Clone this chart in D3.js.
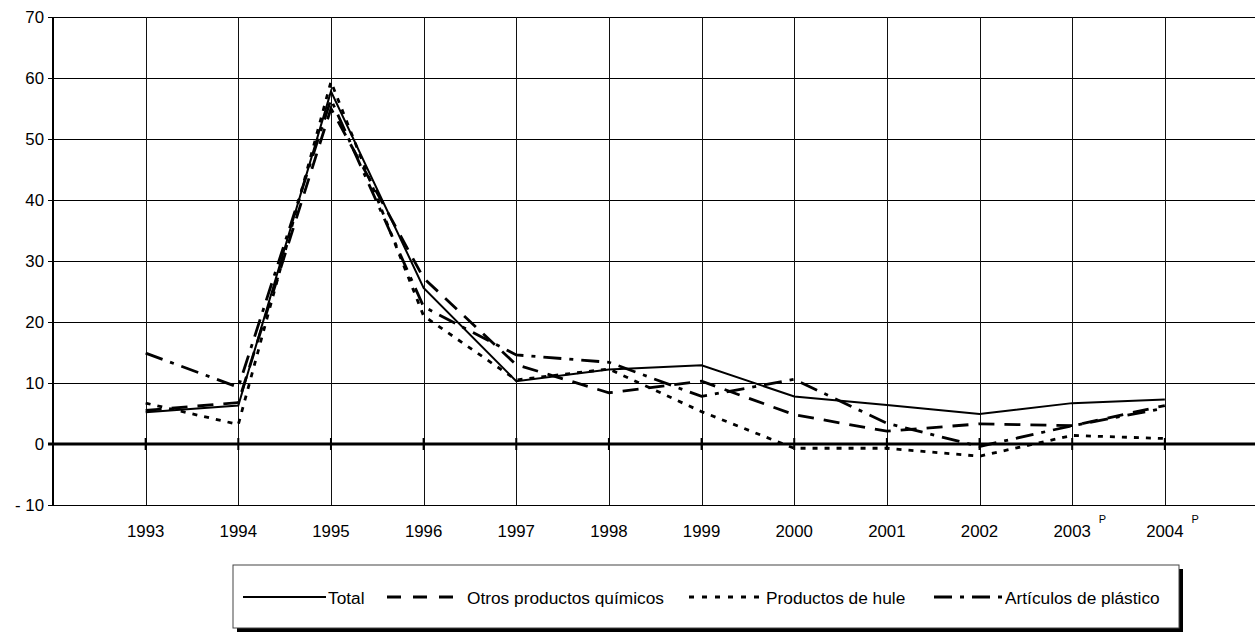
<!DOCTYPE html>
<html>
<head>
<meta charset="utf-8">
<script src="https://cdn.jsdelivr.net/npm/d3@7"></script>
<style>
  html, body { margin: 0; padding: 0; background: #fff; }
  svg { display: block; }
  text { font-family: "Liberation Sans", Arial, sans-serif; fill: #000; }
</style>
</head>
<body>
<svg id="chart" width="1255" height="633"></svg>
<script>
// ---- data ----
const years = ["1993","1994","1995","1996","1997","1998","1999","2000","2001","2002","2003","2004"];
const superscripts = ["","","","","","","","","","","P","P"];
const total      = [5.2, 6.3, 57.8, 25.6, 10.3, 12.2, 12.9, 7.8, 6.4, 4.9, 6.7, 7.3];
const otros      = [5.5, 6.8, 55.0, 27.2, 13.0, 8.4, 10.3, 4.8, 2.1, 3.3, 3.0, 6.3];
const hule       = [6.7, 3.2, 59.4, 21.0, 10.5, 12.3, 5.3, -0.7, -0.7, -2.0, 1.4, 0.9];
const plastico   = [14.9, 9.3, 56.5, 22.5, 14.6, 13.4, 7.8, 10.6, 3.4, -0.4, 3.0, 5.9];
const seriesNames = ["Total", "Otros productos químicos", "Productos de hule", "Artículos de plástico"];
const yTicks = [-10, 0, 10, 20, 30, 40, 50, 60, 70];

(function () {
const series = [
  {name: seriesNames[0], values: total,    dash: null,          width: 2,   legDash: null},
  {name: seriesNames[1], values: otros,    dash: "16,10",       width: 2.8, legDash: "14,12"},
  {name: seriesNames[2], values: hule,     dash: "5,7",         width: 2.8, legDash: "5,8"},
  {name: seriesNames[3], values: plastico, dash: "18,8,4,8",    width: 2.8, legDash: "18,8,4,8"}
];
// legend layout (pixels)
const legLayout = [
  {x1: 243, x2: 326, tx: 328},
  {x1: 387, x2: 455, tx: 467},
  {x1: 689, x2: 763, tx: 766},
  {x1: 934, x2: 1002, tx: 1005}
];

const svg = d3.select("#chart");
const pLeft = 53, pTop = 17, pBottom = 505;
const x = d3.scaleLinear().domain([-1, years.length]).range([pLeft, 1257.5]);
const y = d3.scaleLinear().domain([-10, 70]).range([pBottom, pTop]);

function stretch(sel, k) {
  sel.each(function () {
    const w = this.getComputedTextLength();
    d3.select(this).attr("textLength", w * k).attr("lengthAdjust", "spacingAndGlyphs");
  });
}

// horizontal grid
svg.append("g").selectAll("line").data(yTicks.filter(d => d !== 0)).join("line")
  .attr("x1", pLeft).attr("x2", 1255)
  .attr("y1", d => Math.round(y(d)) + 0.5).attr("y2", d => Math.round(y(d)) + 0.5)
  .attr("stroke", "#000").attr("stroke-width", 1);

// vertical grid
const vIdx = d3.range(0, years.length + 1);
svg.append("g").selectAll("line").data(vIdx).join("line")
  .attr("x1", d => Math.round(x(d)) + 0.5).attr("x2", d => Math.round(x(d)) + 0.5)
  .attr("y1", pTop).attr("y2", pBottom)
  .attr("stroke", "#111").attr("stroke-width", 1);

// y axis
const yAxis = d3.axisLeft(y).tickValues(yTicks).tickSize(5).tickPadding(4)
  .tickFormat(d => d < 0 ? "- " + Math.abs(d) : String(d));
const ya = svg.append("g").attr("transform", `translate(${pLeft},0)`).call(yAxis);
ya.select(".domain").remove();
ya.selectAll("line").attr("stroke", "#000");
ya.selectAll("text").attr("font-size", 16).attr("font-family", "Liberation Sans, Arial, sans-serif");
stretch(ya.selectAll("text"), 1.05);
svg.append("line").attr("x1", pLeft).attr("x2", pLeft).attr("y1", pTop).attr("y2", pBottom)
  .attr("stroke", "#000").attr("stroke-width", 2);

// zero line + ticks
svg.append("line").attr("x1", pLeft - 5).attr("x2", 1255).attr("y1", y(0)).attr("y2", y(0))
  .attr("stroke", "#000").attr("stroke-width", 3);
svg.append("g").selectAll("line").data(d3.range(0, years.length)).join("line")
  .attr("x1", d => x(d)).attr("x2", d => x(d))
  .attr("y1", y(0) - 6).attr("y2", y(0) + 6)
  .attr("stroke", "#000").attr("stroke-width", 2);

// x labels
const xl = svg.append("g");
years.forEach((yr, i) => {
  const t = xl.append("text").attr("x", x(i)).attr("y", 537)
    .attr("text-anchor", "middle").attr("font-size", 16).text(yr);
  stretch(t, 1.05);
  if (superscripts[i]) {
    const w = t.node().getComputedTextLength() * 1.05;
    xl.append("text").attr("x", x(i) + w / 2 + 7).attr("y", 523)
      .attr("font-size", 11).text(superscripts[i]);
  }
});

// lines
const line = d3.line().x((d, i) => x(i)).y(d => y(d));
series.forEach(s => {
  svg.append("path").datum(s.values).attr("d", line)
    .attr("fill", "none").attr("stroke", "#000")
    .attr("stroke-width", s.width)
    .attr("stroke-dasharray", s.dash)
    .attr("stroke-linejoin", "miter");
});

// legend
const lg = svg.append("g");
const bx = 233, by = 565, bw = 946, bh = 63;
lg.append("rect").attr("x", bx + 4).attr("y", by + 4).attr("width", bw).attr("height", bh).attr("fill", "#000");
lg.append("rect").attr("x", bx).attr("y", by).attr("width", bw).attr("height", bh)
  .attr("fill", "#fff").attr("stroke", "#444").attr("stroke-width", 1);
const ly = 597;
series.forEach((s, i) => {
  const L = legLayout[i];
  lg.append("line").attr("x1", L.x1).attr("x2", L.x2).attr("y1", ly).attr("y2", ly)
    .attr("stroke", "#000").attr("stroke-width", s.width).attr("stroke-dasharray", s.legDash);
  const t = lg.append("text").attr("x", L.tx).attr("y", 604)
    .attr("font-size", 16).text(s.name);
  stretch(t, 1.08);
});
})();
</script>
</body>
</html>
